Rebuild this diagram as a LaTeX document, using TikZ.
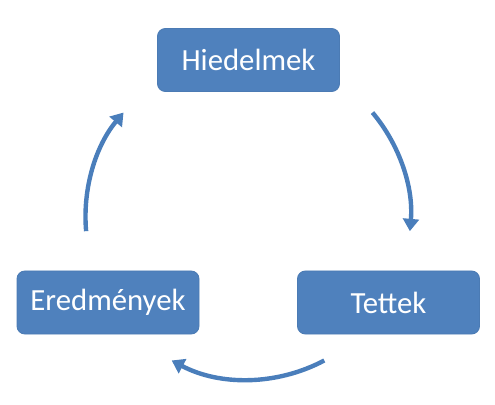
\documentclass[tikz,border=0pt]{standalone}
\usepackage{fontspec}
\setmainfont{Carlito}
\usetikzlibrary{calc, positioning}
\usetikzlibrary{arrows.meta}

\definecolor{boxblue}{HTML}{4F81BD}
\definecolor{arrowblue}{HTML}{4A7EBB}

\tikzset{
  cyclebox/.style={fill=boxblue, draw=boxblue!95!black, line width=0.5pt, rounded corners=4.5pt,
    minimum width=3.64cm, minimum height=1.26cm, text=white, font=\fontsize{17.5}{21}\selectfont},
  cyclearrow/.style={draw=arrowblue, line width=2.5pt, -{Triangle[length=7pt,width=9pt]}}
}

\begin{document}
\begin{tikzpicture}
\def\R{3.25}

\useasboundingbox (0,0) rectangle (9.9,8.08);

\coordinate (O) at (4.96,3.74);

\node[cyclebox] (hiedelmek) at (4.97,6.88) {Hiedelmek};
\node[cyclebox] (tettek) at (7.77,2.03) {Tettek};
\node[cyclebox] (eredmenyek) at (2.16,2.03) {Eredmények};

\coordinate (a1) at ($(O)+(40:\R)$);
\coordinate (a2) at ($(O)+(-62:\R)$);
\coordinate (a3) at ($(O)+(185:\R)$);

\draw[cyclearrow] (a1) arc[start angle=40, end angle=-5, radius=\R];
\draw[cyclearrow] (a2) arc[start angle=-62, end angle=-118, radius=\R];
\draw[cyclearrow] (a3) arc[start angle=185, end angle=140, radius=\R];
\end{tikzpicture}
\end{document}
